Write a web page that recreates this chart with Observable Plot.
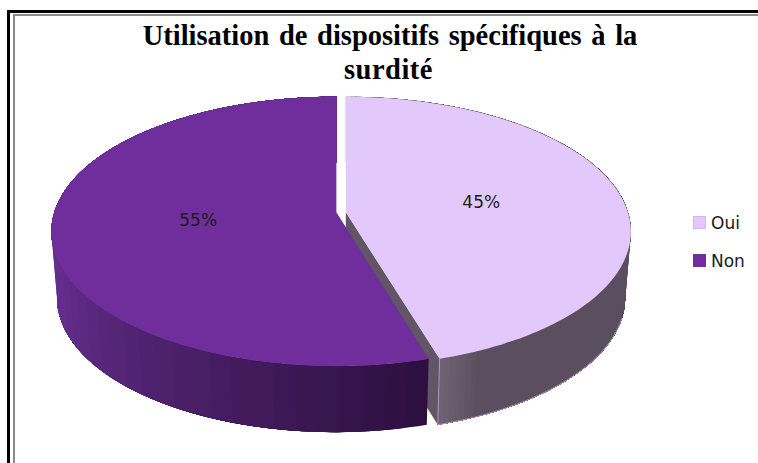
<!DOCTYPE html>
<html><head><meta charset="utf-8">
<script src="https://cdn.jsdelivr.net/npm/d3@7"></script>
<script src="https://cdn.jsdelivr.net/npm/@observablehq/plot@0.6"></script>
<style>
html,body{margin:0;padding:0;background:#fff;width:758px;height:463px;overflow:hidden;position:relative}
#frame{position:absolute;left:7px;top:10px;right:-10px;bottom:-10px;border-left:3.5px solid #000;border-top:3.5px solid #000}
#frame2{position:absolute;left:12.5px;top:13.5px;right:-10px;bottom:-10px;border-left:2px solid #8a8a8a;border-top:2px solid #8a8a8a}
#title{position:absolute;left:0;top:18.5px;width:780px;text-align:center;font:bold 28.5px/34px "Liberation Serif",serif;color:#000;word-spacing:2.5px;z-index:2}
#title span{letter-spacing:.5px;position:relative;left:-1.5px}
.lg{position:absolute;left:693px;width:60px;height:14px;font:17px/14px "DejaVu Sans",sans-serif;color:#1a1a1a;z-index:2}
.lg i{position:absolute;left:0;top:0;width:13px;height:13px;box-sizing:border-box}
.lg span{position:absolute;left:18px;top:0}
svg{position:absolute;left:0;top:0}
</style></head><body>
<div id="frame"></div><div id="frame2"></div>
<div id="title">Utilisation de dispositifs spécifiques à la<br><span>surdité</span></div>
<div id="chart"></div>
<script>
const categories = ["Oui", "Non"];
const values = [45.4, 54.6];
const topColors = ["#e3c9fb", "#6f2e9b"];
const legendBorders = ["#d5b6f5", "#6f2e9b"];
const legendTops = [216, 254];

// Perspective pie parameters
const k = 0.142, depth = 0.5, baseScale = 0.98, labelR = 0.49, explodeBy = 0.0168;
const total = d3.sum(values);
const angles = []; let acc = 0;
values.forEach(v => { const a0 = acc / total * 2 * Math.PI; acc += v; angles.push([a0, acc / total * 2 * Math.PI]); });
const mids = angles.map(([a, b]) => (a + b) / 2);
const proj = (theta, r, i, bottom) => {
  const u = r * Math.sin(theta), v = -r * Math.cos(theta), w = 1 - k * v;
  const s = bottom ? baseScale : 1;
  // the exploded gap stays constant behind the centre and opens towards the viewer
  const shift = explodeBy * Math.sign(Math.sin(mids[i])) * (v > 0 ? 1 / w : 1);
  return {x: s * u / w + shift, y: v / w + (bottom ? depth : 0)};
};
const arc = (a0, a1, n = 120) => d3.range(0, n + 0.5).map(j => a0 + (a1 - a0) * j / n);

const polys = []; let id = 0;
const add = (pts, color) => { id++; pts.forEach(p => polys.push({...p, id, color})); };

// Oui: cut face
const [a0, a1] = angles[0];
add([proj(a1, 0, 0, false), proj(a1, 1, 0, false), proj(a1, 1, 0, true), proj(a1, 0, 0, true)], "#625666");
// outer walls: nested bands, each covering from its start to the slice's end, so no seams show
const wall = (i, colorAt, bands) => {
  const [s, e] = angles[i];
  for (let b = 0; b < bands; b++) {
    const start = s + (e - s) * b / bands;
    const th = arc(start, e);
    add([...th.map(t => proj(t, 1, i, false)), ...th.reverse().map(t => proj(t, 1, i, true))], colorAt(b / bands));
  }
};
const ouiWall = t => d3.interpolateRgb("#5b4f5f", "#706476")(t < 0.95 ? 0 : (t - 0.95) / 0.05);
const nonWall = t => d3.interpolateRgb("#2e1040", "#642d8c")(Math.min(1, t / 0.42));
wall(0, ouiWall, 160);
add([proj(a0, 0, 0, false), ...arc(a0, a1).map(t => proj(t, 1, 0, false))], topColors[0]);
wall(1, nonWall, 50);
add([proj(angles[1][0], 0, 1, false), ...arc(...angles[1]).map(t => proj(t, 1, 1, false))], topColors[1]);

// light rim of the Oui slice
const rim = [
  ...arc(Math.PI / 2 + 0.3, a1).map(t => ({...proj(t, 1, 0, true), g: 1})),
  {...proj(a1, 1, 0, false), g: 1}
];

const labels = values.map((v, i) => ({...proj(mids[i], labelR, i, false), text: Math.round(v) + "%"}));

const cx = 340.6, cy = 211.8, R = 282, S = 132;
const plot = Plot.plot({
  width: 758, height: 463, margin: 0,
  x: {domain: [-1, 1], range: [cx - R, cx + R], axis: null},
  y: {domain: [-1, 1], range: [cy - S, cy + S], axis: null},
  color: {type: "identity"},
  style: {background: "transparent"},
  marks: [
    Plot.line(polys, {x: "x", y: "y", z: "id", fill: "color", stroke: "none", curve: "linear"}),
    Plot.line(rim, {x: "x", y: "y", z: "g", stroke: "#e3c9fb", strokeWidth: 0.8, strokeOpacity: 0.7, curve: "linear"}),
    Plot.text(labels, {x: "x", y: "y", dy: -1, text: "text", fontSize: 17, fontFamily: "DejaVu Sans", fill: "#1a1a1a"})
  ]
});
document.getElementById("chart").append(plot);

categories.forEach((c, i) => {
  const d = document.createElement("div");
  d.className = "lg"; d.style.top = legendTops[i] + "px";
  d.innerHTML = `<i style="background:${topColors[i]};border:1px solid ${legendBorders[i]}"></i><span>${c}</span>`;
  document.body.append(d);
});
</script>
</body></html>
